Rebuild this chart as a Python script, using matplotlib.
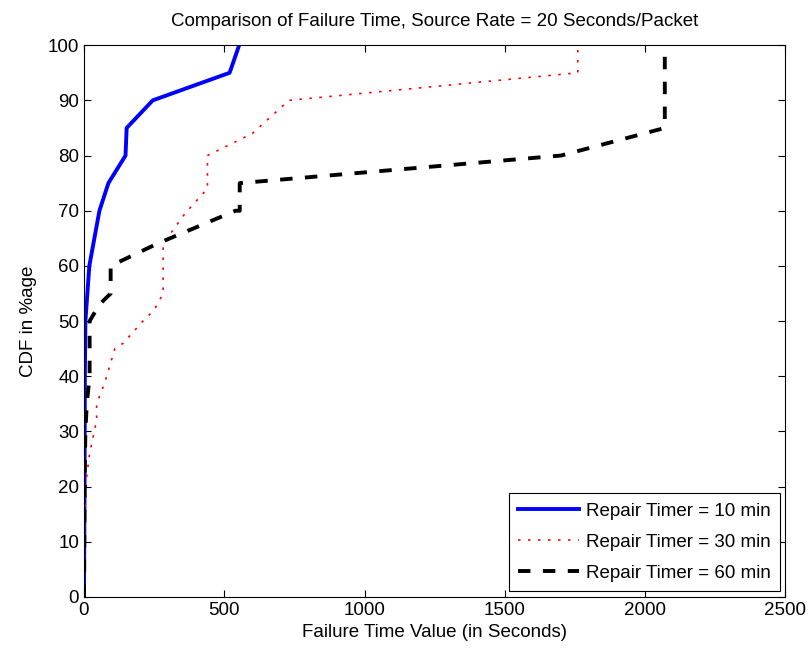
import matplotlib
matplotlib.use("Agg")
import matplotlib.pyplot as plt

plt.rcParams["font.family"] = ["Liberation Sans", "DejaVu Sans"]

# failure time (s) vs CDF (%) for each repair timer
t_10 = [0, 2, 3, 5, 19, 37, 55, 87, 148, 152, 245, 519, 553]
cdf_10 = [0, 20, 40, 50, 60, 65, 70, 75, 80, 85, 90, 95, 100]

t_30 = [0, 3, 10, 20, 45, 45, 75, 110, 140, 210, 250, 282, 282, 360, 440, 440, 480, 600, 665, 730, 1760, 1760]
cdf_30 = [0, 15, 22, 26, 32, 35, 39, 45, 46, 50, 52, 55, 64, 69.5, 74, 80, 81, 84, 87, 90, 95, 100]

t_60 = [0, 2, 5, 10, 20, 20, 55, 95, 95, 260, 540, 555, 555, 1700, 2070, 2070]
cdf_60 = [0, 20, 30, 35, 40, 50, 53, 55, 60, 64, 70, 70, 75, 80, 85, 100]

labels = ["Repair Timer = 10 min", "Repair Timer = 30 min", "Repair Timer = 60 min"]

fs = 13.5

fig = plt.figure(figsize=(8.1, 6.53), dpi=100)
ax = fig.add_axes([0.1037, 0.0858, 0.866, 0.845])

ax.plot(t_10, cdf_10, color="blue", lw=2.8, label=labels[0])
ax.plot(t_30, cdf_30, color="red", lw=1.2, linestyle=(0, (1.5, 4.5)), label=labels[1])
ax.plot(t_60, cdf_60, color="black", lw=2.8, linestyle=(0, (3.2, 3.2)), label=labels[2])

ax.set_xlim(0, 2500)
ax.set_ylim(0, 100)
ax.set_xticks(range(0, 2501, 500))
ax.set_yticks(range(0, 101, 10))
ax.tick_params(direction="in", top=True, right=True, labelsize=fs, length=5)
ax.set_title("Comparison of Failure Time, Source Rate = 20 Seconds/Packet", fontsize=fs, pad=14)
ax.set_xlabel("Failure Time Value (in Seconds)", fontsize=fs, labelpad=4)
ax.set_ylabel("CDF in %age", fontsize=fs, labelpad=8)

leg = ax.legend(loc="lower right", fontsize=fs, handlelength=3.25, handletextpad=0.35,
                fancybox=False, edgecolor="black", framealpha=1, borderaxespad=0.3,
                borderpad=0.5, labelspacing=0.75)
leg.get_frame().set_linewidth(0.8)

fig.savefig("out.png", dpi=100)
